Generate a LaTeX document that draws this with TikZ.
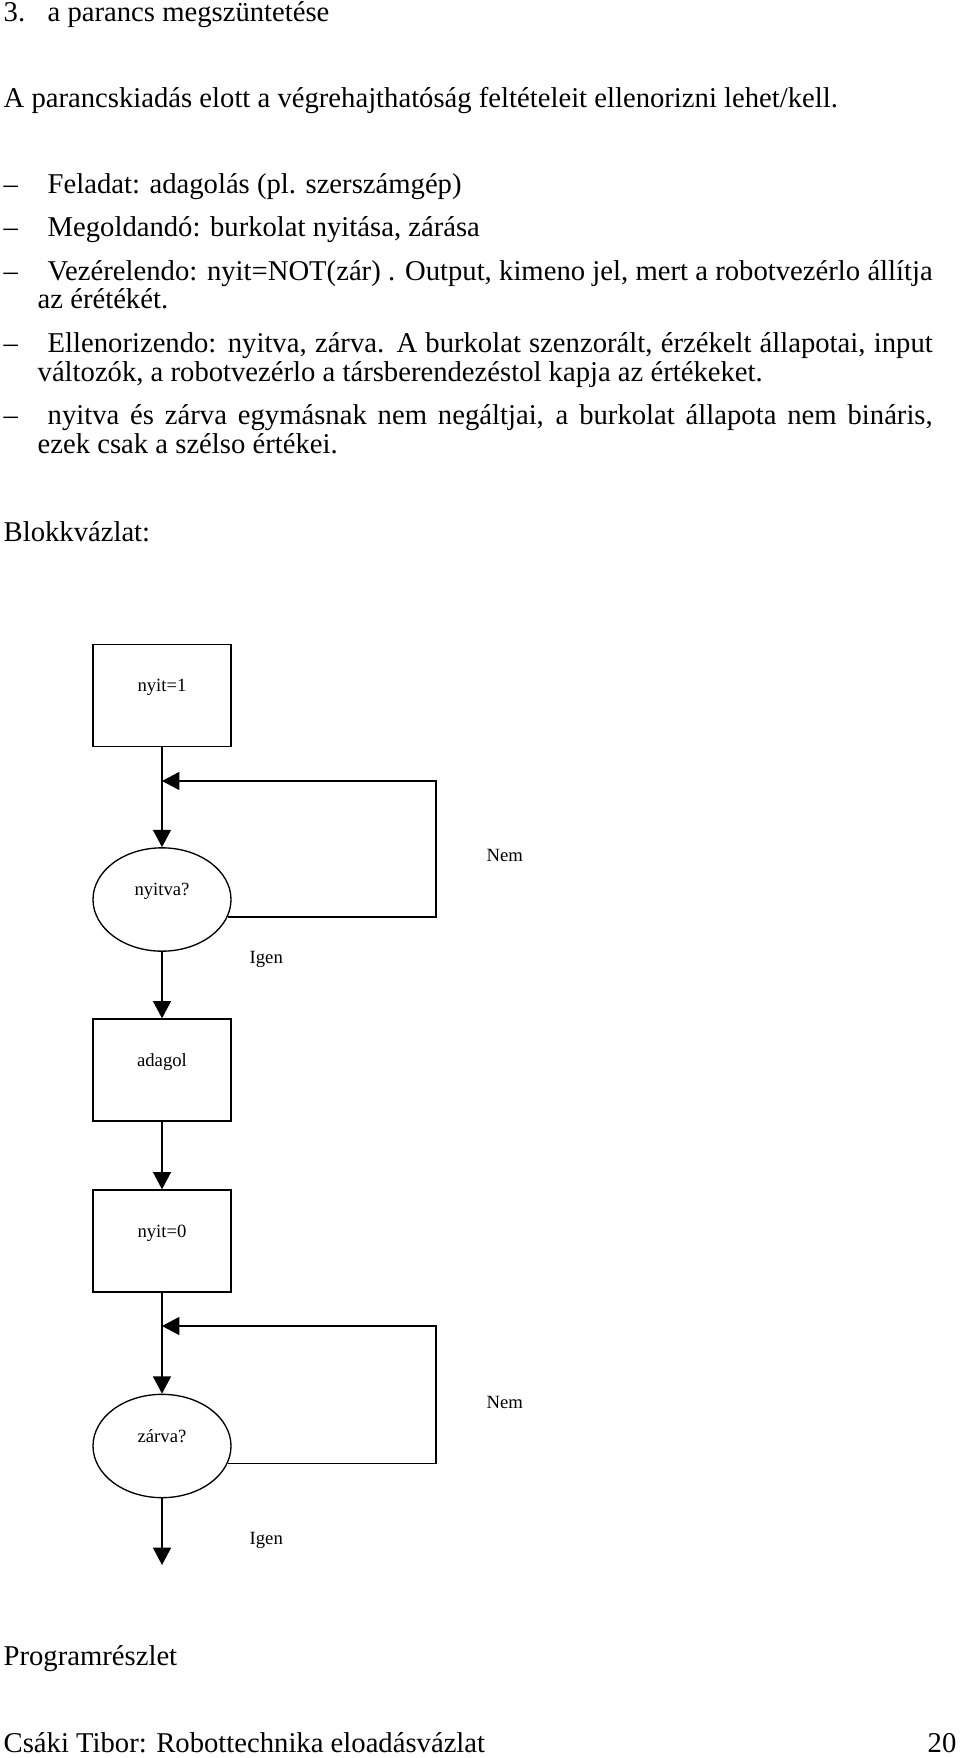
\documentclass[tikz,border=0pt]{standalone}
\usepackage{fontspec}
\setmainfont{Liberation Serif}
\usetikzlibrary{arrows.meta,shapes.geometric}

\begin{document}
\begin{tikzpicture}[x=0.75pt,y=-0.75pt,line width=1pt,
  >={Triangle[length=13pt,width=13.5pt]},
  szoveg/.style={anchor=base west,inner sep=0pt,font=\fontsize{21.5}{25}\selectfont},
  felirat/.style={anchor=base west,inner sep=0pt,font=\fontsize{14}{16}\selectfont},
  blokk/.style={draw,rectangle,minimum width=103.5pt,minimum height=76.5pt,inner sep=0pt,
    text height=10pt,text depth=15.8pt,font=\fontsize{14}{16}\selectfont},
  dont/.style={draw,ellipse,minimum width=103.5pt,minimum height=77.5pt,inner sep=0pt,
    text height=10pt,text depth=15.8pt,font=\fontsize{14}{16}\selectfont}]

\useasboundingbox (0,0) rectangle (960,1758);

% szoveg a lap tetejen
\node(szam) at (3,22)[szoveg] {3.};
\node(cim) at (47,22)[szoveg] {a parancs megszüntetése};
\node(bev) at (3,108)[szoveg] {A parancskiadás elott a végrehajthatóság feltételeit ellenorizni lehet/kell.};

\node(d1) at (3,194)[szoveg] {--};
\node(feladat) at (47,194)[szoveg] {Feladat: adagolás (pl. szerszámgép)};
\node(d2) at (3,237)[szoveg] {--};
\node(megold) at (47,237)[szoveg] {Megoldandó: burkolat nyitása, zárása};
\node(d3) at (3,281)[szoveg] {--};
\node(vez) at (47,281)[szoveg] {\makebox[663.75pt][s]{Vezérelendo: nyit=NOT(zár) . Output, kimeno jel, mert a robotvezérlo állítja}};
\node(vez2) at (37,309)[szoveg] {az érétékét.};
\node(d4) at (3,352)[szoveg] {--};
\node(ell) at (47,352)[szoveg] {\makebox[663.75pt][s]{Ellenorizendo: nyitva, zárva. A burkolat szenzorált, érzékelt állapotai, input}};
\node(ell2) at (37,381)[szoveg] {változók, a robotvezérlo a társberendezéstol kapja az értékeket.};
\node(d5) at (3,424)[szoveg] {--};
\node(nyz) at (47,424)[szoveg] {\makebox[663.75pt][s]{nyitva és zárva egymásnak nem negáltjai, a burkolat állapota nem bináris,}};
\node(nyz2) at (37,453)[szoveg] {ezek csak a szélso értékei.};

\node(blokkv) at (3,541)[szoveg] {Blokkvázlat:};

% blokkvazlat
\node(b1) at (162,695.5)[blokk] {nyit=1};
\node(ny) at (162,899.5)[dont] {nyitva?};
\node(ad) at (162,1070)[blokk] {adagol};
\node(b0) at (162,1241)[blokk] {nyit=0};
\node(za) at (162,1446)[dont] {zárva?};

\coordinate(j1) at (162,781);
\coordinate(s1) at (436,781);
\coordinate(j0) at (162,1326);
\coordinate(s0) at (436,1326);
\coordinate(ki) at (162,1565);

\node(nem1) at (486,861)[felirat] {Nem};
\node(igen1) at (249,963)[felirat] {Igen};
\node(nem0) at (486,1408)[felirat] {Nem};
\node(igen0) at (249,1544)[felirat] {Igen};

\draw[->] (b1) -- (ny);
\draw[->] (ny.-15) -| (s1) -- (j1);
\draw[->] (ny) -- (ad);
\draw[->] (ad) -- (b0);
\draw[->] (b0) -- (za);
\draw[->] (za.-15) -| (s0) -- (j0);
\draw[->] (za) -- (ki);

% lap alja
\node(prog) at (3,1665)[szoveg] {Programrészlet};
\node(lab) at (3,1752)[szoveg] {Csáki Tibor: Robottechnika eloadásvázlat};
\node(oldal) at (957,1752)[szoveg,anchor=base east] {20};

\end{tikzpicture}
\end{document}
